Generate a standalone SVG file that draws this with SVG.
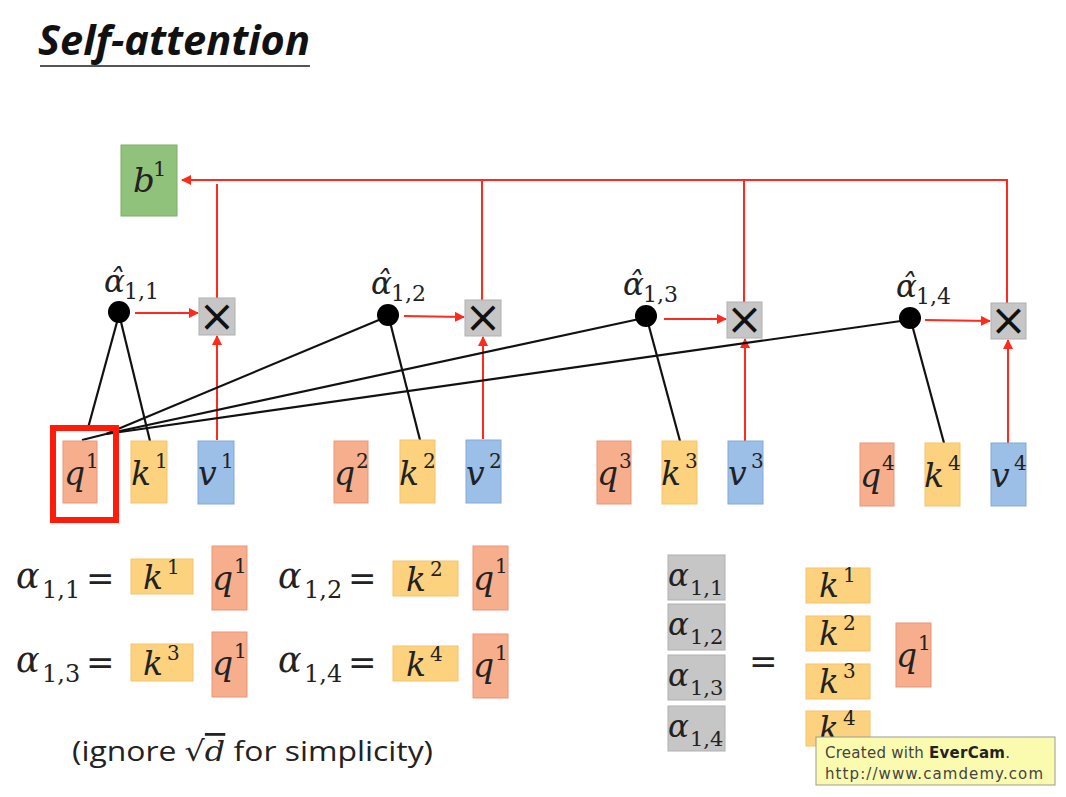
<svg xmlns="http://www.w3.org/2000/svg" width="1066" height="797" viewBox="0 0 1066 797">
<defs>
<marker id="ah" viewBox="0 0 10 10" refX="9" refY="5" markerWidth="5" markerHeight="5" orient="auto"><path d="M0,0 L10,5 L0,10 z" fill="#ff2a1a"/></marker>
<style>
.q{fill:#f7ae8c;stroke:#e9957a;stroke-width:1}
.k{fill:#fdd27e;stroke:#f3c36a;stroke-width:1}
.v{fill:#9cbfe8;stroke:#84a9d8;stroke-width:1}
.g{fill:#c6c6c6;stroke:#b0b0b0;stroke-width:1}
.m{font-family:"DejaVu Serif","Liberation Serif",serif;font-style:italic;fill:#222}
.s{font-family:"DejaVu Serif","Liberation Serif",serif;font-style:normal;fill:#222}
.r{stroke:#ff2a1a;stroke-width:2;fill:none}
.rk{stroke:#ff2a1a;stroke-width:2;fill:none;marker-end:url(#ah)}
.bk{stroke:#111;stroke-width:2.2;fill:none}
.eq{font-family:"DejaVu Serif","Liberation Serif",serif;fill:#222}
.x{font-family:"DejaVu Sans",sans-serif;font-size:44px;fill:#111;text-anchor:middle}
</style>
</defs>
<rect width="1066" height="797" fill="#ffffff"/>

<g id="title">
<text x="38" y="55" font-family="Open Sans, Liberation Sans, sans-serif" font-weight="bold" font-style="italic" font-size="42" textLength="272" lengthAdjust="spacingAndGlyphs" fill="#111">Self-attention</text>
<line x1="40" y1="66" x2="310" y2="66" stroke="#555" stroke-width="2"/>
</g>

<g id="connectors">
<path class="r" d="M1007,303 V180 H182" marker-end="url(#ah)"/>
<path class="r" d="M217,298 V184"/>
<path class="r" d="M482,300 V180"/>
<path class="r" d="M744,302 V180"/>
<line class="rk" x1="135" y1="313" x2="198" y2="313"/>
<line class="rk" x1="404" y1="316" x2="464" y2="317"/>
<line class="rk" x1="664" y1="319" x2="726" y2="319"/>
<line class="rk" x1="925" y1="320" x2="990" y2="321"/>
<line class="rk" x1="217" y1="440" x2="217" y2="336"/>
<line class="rk" x1="483" y1="439" x2="483" y2="337"/>
<line class="rk" x1="745" y1="441" x2="745" y2="339"/>
<line class="rk" x1="1008" y1="443" x2="1008" y2="340"/>
<line class="bk" x1="88" y1="428" x2="117" y2="322"/>
<line class="bk" x1="150" y1="441" x2="121" y2="322"/>
<line class="bk" x1="82" y1="440" x2="106" y2="434"/>
<line class="bk" x1="106" y1="434" x2="386" y2="317"/>
<line class="bk" x1="106" y1="434" x2="644" y2="318"/>
<line class="bk" x1="106" y1="434" x2="908" y2="320"/>
<line class="bk" x1="420" y1="440" x2="389" y2="318"/>
<line class="bk" x1="680" y1="441" x2="647" y2="319"/>
<line class="bk" x1="944" y1="443" x2="911" y2="321"/>
</g>

<g id="b1">
<rect x="121" y="145" width="56" height="71" fill="#91c27c" stroke="#7aae66"/>
<text x="133" y="192" class="m" font-size="34">b</text><text x="153" y="176" class="s" font-size="21">1</text>
</g>

<g id="dots">
<circle cx="119" cy="312" r="11" fill="#000"/>
<circle cx="388" cy="315" r="11" fill="#000"/>
<circle cx="646" cy="316" r="11" fill="#000"/>
<circle cx="910" cy="318" r="11" fill="#000"/>
<text x="104" y="292" class="m" font-size="31">α̂</text><text x="124" y="299" class="s" font-size="22">1,1</text>
<text x="371" y="294" class="m" font-size="31">α̂</text><text x="391" y="301" class="s" font-size="22">1,2</text>
<text x="623" y="295" class="m" font-size="31">α̂</text><text x="643" y="302" class="s" font-size="22">1,3</text>
<text x="896" y="297" class="m" font-size="31">α̂</text><text x="916" y="304" class="s" font-size="22">1,4</text>
</g>

<g id="mult">
<rect class="g" x="199" y="298" width="36" height="37"/><text x="217" y="331" class="x">×</text>
<rect class="g" x="465" y="300" width="36" height="36"/><text x="483" y="332" class="x">×</text>
<rect class="g" x="727" y="302" width="35" height="36"/><text x="744.5" y="334" class="x">×</text>
<rect class="g" x="991" y="303" width="35" height="36"/><text x="1008.5" y="335" class="x">×</text>
</g>

<g id="highlight">
<rect x="53" y="428" width="63" height="92" fill="none" stroke="#ff1a0a" stroke-width="6"/>
</g>

<g id="q1"><rect class="q" x="63" y="441" width="34" height="62"/><text x="64" y="485" class="m" font-size="33">q</text><text x="86" y="468" class="s" font-size="20">1</text></g>
<g id="k1"><rect class="k" x="131" y="441" width="36" height="62"/><text x="131" y="485" class="m" font-size="33">k</text><text x="155" y="468" class="s" font-size="20">1</text></g>
<g id="v1"><rect class="v" x="198" y="441" width="36" height="63"/><text x="198" y="485" class="m" font-size="33">v</text><text x="221" y="468" class="s" font-size="20">1</text></g>
<g id="q2"><rect class="q" x="334" y="441" width="34" height="62"/><text x="334" y="485" class="m" font-size="33">q</text><text x="356" y="468" class="s" font-size="20">2</text></g>
<g id="k2"><rect class="k" x="400" y="440" width="35" height="63"/><text x="399" y="485" class="m" font-size="33">k</text><text x="423" y="468" class="s" font-size="20">2</text></g>
<g id="v2"><rect class="v" x="466" y="440" width="35" height="63"/><text x="466" y="485" class="m" font-size="33">v</text><text x="489" y="468" class="s" font-size="20">2</text></g>
<g id="q3"><rect class="q" x="597" y="441" width="34" height="63"/><text x="597" y="485" class="m" font-size="33">q</text><text x="619" y="468" class="s" font-size="20">3</text></g>
<g id="k3"><rect class="k" x="662" y="441" width="35" height="63"/><text x="661" y="485" class="m" font-size="33">k</text><text x="685" y="468" class="s" font-size="20">3</text></g>
<g id="v3"><rect class="v" x="728" y="441" width="35" height="63"/><text x="728" y="485" class="m" font-size="33">v</text><text x="751" y="468" class="s" font-size="20">3</text></g>
<g id="q4"><rect class="q" x="860" y="443" width="34" height="63"/><text x="860" y="487" class="m" font-size="33">q</text><text x="882" y="470" class="s" font-size="20">4</text></g>
<g id="k4"><rect class="k" x="925" y="443" width="35" height="63"/><text x="924" y="487" class="m" font-size="33">k</text><text x="948" y="470" class="s" font-size="20">4</text></g>
<g id="v4"><rect class="v" x="991" y="443" width="35" height="63"/><text x="991" y="487" class="m" font-size="33">v</text><text x="1014" y="470" class="s" font-size="20">4</text></g>

<g id="eq1">
<text x="16" y="588" class="m" font-size="35">α</text><text x="42" y="598" class="s" font-size="24">1,1</text><text x="86" y="590" class="eq" font-size="34">=</text>
<rect class="k" x="131" y="559" width="62" height="35"/><text x="143" y="589" class="m" font-size="33">k</text><text x="167" y="574" class="s" font-size="20">1</text>
<rect class="q" x="212" y="546" width="35" height="64"/><text x="212" y="590" class="m" font-size="33">q</text><text x="234" y="573" class="s" font-size="20">1</text>
</g>
<g id="eq2">
<text x="278" y="588" class="m" font-size="35">α</text><text x="304" y="598" class="s" font-size="24">1,2</text><text x="348" y="590" class="eq" font-size="34">=</text>
<rect class="k" x="393" y="561" width="65" height="35"/><text x="406" y="591" class="m" font-size="33">k</text><text x="430" y="576" class="s" font-size="20">2</text>
<rect class="q" x="473" y="546" width="35" height="64"/><text x="473" y="590" class="m" font-size="33">q</text><text x="495" y="573" class="s" font-size="20">1</text>
</g>
<g id="eq3">
<text x="16" y="672" class="m" font-size="35">α</text><text x="42" y="682" class="s" font-size="24">1,3</text><text x="86" y="674" class="eq" font-size="34">=</text>
<rect class="k" x="131" y="644" width="62" height="37"/><text x="143" y="675" class="m" font-size="33">k</text><text x="167" y="660" class="s" font-size="20">3</text>
<rect class="q" x="212" y="632" width="35" height="65"/><text x="212" y="675" class="m" font-size="33">q</text><text x="234" y="658" class="s" font-size="20">1</text>
</g>
<g id="eq4">
<text x="278" y="672" class="m" font-size="35">α</text><text x="304" y="682" class="s" font-size="24">1,4</text><text x="348" y="674" class="eq" font-size="34">=</text>
<rect class="k" x="393" y="646" width="65" height="35"/><text x="406" y="676" class="m" font-size="33">k</text><text x="430" y="661" class="s" font-size="20">4</text>
<rect class="q" x="473" y="634" width="35" height="64"/><text x="473" y="677" class="m" font-size="33">q</text><text x="495" y="660" class="s" font-size="20">1</text>
</g>

<g id="note">
<text x="72" y="761" font-family="Open Sans, Liberation Sans, sans-serif" font-size="28" textLength="361" lengthAdjust="spacingAndGlyphs" fill="#222">(ignore <tspan font-family="DejaVu Serif, serif">√</tspan><tspan font-family="DejaVu Serif, serif" font-style="italic" text-decoration="overline">d</tspan> for simplicity)</text>
</g>

<g id="matrix">
<rect class="g" x="668" y="555" width="57" height="45"/><text x="668" y="586" class="m" font-size="31">α</text><text x="690" y="595" class="s" font-size="21">1,1</text>
<rect class="g" x="668" y="604" width="57" height="46"/><text x="668" y="635" class="m" font-size="31">α</text><text x="690" y="644" class="s" font-size="21">1,2</text>
<rect class="g" x="668" y="655" width="57" height="45"/><text x="668" y="686" class="m" font-size="31">α</text><text x="690" y="695" class="s" font-size="21">1,3</text>
<rect class="g" x="668" y="706" width="57" height="45"/><text x="668" y="737" class="m" font-size="31">α</text><text x="690" y="746" class="s" font-size="21">1,4</text>
<text x="749" y="673" class="eq" font-size="34">=</text>
<rect class="k" x="806" y="568" width="64" height="35"/><text x="819" y="597" class="m" font-size="33">k</text><text x="843" y="582" class="s" font-size="20">1</text>
<rect class="k" x="806" y="616" width="64" height="35"/><text x="819" y="645" class="m" font-size="33">k</text><text x="843" y="630" class="s" font-size="20">2</text>
<rect class="k" x="806" y="664" width="64" height="35"/><text x="819" y="693" class="m" font-size="33">k</text><text x="843" y="678" class="s" font-size="20">3</text>
<rect class="k" x="806" y="711" width="64" height="35"/><text x="819" y="740" class="m" font-size="33">k</text><text x="843" y="725" class="s" font-size="20">4</text>
<rect class="q" x="896" y="623" width="35" height="64"/><text x="896" y="667" class="m" font-size="33">q</text><text x="918" y="650" class="s" font-size="20">1</text>
</g>

<g id="watermark">
<rect x="816" y="737" width="239" height="48" fill="#fbfbb0" stroke="#999" stroke-width="1"/>
<text x="825" y="758" font-family="DejaVu Sans, sans-serif" font-size="15" textLength="185" lengthAdjust="spacing" fill="#444">Created with <tspan font-weight="bold" fill="#222">EverCam</tspan>.</text>
<text x="825" y="779" font-family="DejaVu Sans, sans-serif" font-size="15" textLength="218" lengthAdjust="spacing" fill="#444">http://www.camdemy.com</text>
</g>
</svg>
